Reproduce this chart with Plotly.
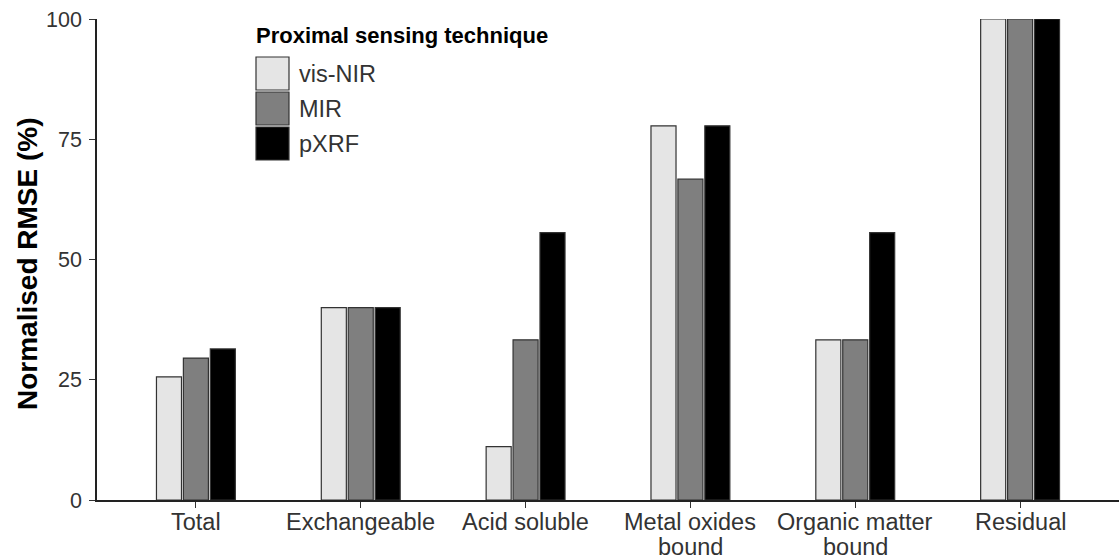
import plotly.graph_objects as go

categories = ["Total", "Exchangeable", "Acid soluble", "Metal oxides<br>bound",
              "Organic matter<br>bound", "Residual"]
vis_nir = [25.6, 40.0, 11.1, 77.8, 33.3, 100.0]
mir = [29.5, 40.0, 33.3, 66.7, 33.3, 100.0]
pxrf = [31.4, 40.0, 55.6, 77.8, 55.6, 100.0]
series_names = ["vis-NIR", "MIR", "pXRF"]
series_colors = ["#e5e5e5", "#7f7f7f", "#000000"]
y_ticks = [0, 25, 50, 75, 100]

W, H = 1119, 560
ML, MR, MT, MB = 97, 0, 19, 60
PW, PH = W - ML - MR, H - MT - MB
FONT = "Liberation Sans, Arial, sans-serif"

fig = go.Figure()
for name, vals, col in zip(series_names, [vis_nir, mir, pxrf], series_colors):
    fig.add_trace(go.Bar(
        x=categories, y=vals, name=name,
        marker=dict(color=col, line=dict(color="#333333", width=1.2)),
        showlegend=False,
    ))

fig.update_layout(
    width=W, height=H,
    margin=dict(l=ML, r=MR, t=MT, b=MB, pad=0, autoexpand=False),
    plot_bgcolor="white", paper_bgcolor="white",
    barmode="group", bargap=0.51, bargroupgap=0.07,
    font=dict(family=FONT, color="#333333", size=23),
    xaxis=dict(
        range=[-0.6, 5.6], showline=True, linecolor="#222222", linewidth=1.5,
        ticks="outside", ticklen=6, tickcolor="#333333", tickwidth=1.2,
        showticklabels=False, showgrid=False, zeroline=False, automargin=False,
    ),
    yaxis=dict(
        range=[0, 100], tickvals=y_ticks, showline=True, linecolor="#222222",
        linewidth=1.5, ticks="outside", ticklen=6, tickcolor="#333333",
        tickwidth=1.2, tickfont=dict(size=21.5, color="#333333"),
        showgrid=False, zeroline=False, ticklabelstandoff=3, automargin=False,
    ),
)

def px2paper_x(px):
    return (px - ML) / PW

def px2paper_y(py):
    return (H - MB - py) / PH

# x-axis category labels (tight line spacing as in the reference)
for cat in categories:
    for j, line in enumerate(cat.split("<br>")):
        fig.add_annotation(
            x=cat, y=0, xref="x", yref="paper", text=line, showarrow=False,
            xanchor="center", yanchor="middle", yshift=-(22 + 25 * j),
            font=dict(size=23.5, color="#333333"),
        )

# y-axis title
fig.add_annotation(
    x=px2paper_x(27), y=px2paper_y(264), xref="paper", yref="paper",
    text="<b>Normalised RMSE (%)</b>", textangle=-90, showarrow=False,
    xanchor="center", yanchor="middle", font=dict(size=28, color="#000000"),
)

# Legend (custom, to match large swatches)
fig.add_annotation(
    x=px2paper_x(254), y=px2paper_y(36), xref="paper", yref="paper",
    text="<b>Proximal sensing technique</b>", showarrow=False,
    xanchor="left", yanchor="middle", font=dict(size=22, color="#000000"),
)
sw_tops = [57, 92, 127]
for name, col, top in zip(series_names, series_colors, sw_tops):
    fig.add_shape(
        type="rect", xref="paper", yref="paper",
        x0=px2paper_x(256), x1=px2paper_x(289),
        y0=px2paper_y(top + 33), y1=px2paper_y(top),
        fillcolor=col, line=dict(color="#333333", width=1.2),
    )
    fig.add_annotation(
        x=px2paper_x(297), y=px2paper_y(top + 17), xref="paper", yref="paper",
        text=name, showarrow=False, xanchor="left", yanchor="middle",
        font=dict(size=23.5, color="#333333"),
    )

fig.write_html("out.html")
